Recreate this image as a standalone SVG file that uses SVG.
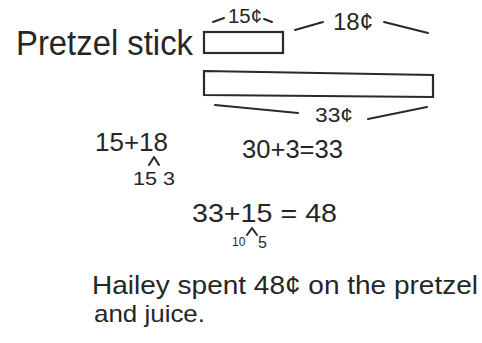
<svg xmlns="http://www.w3.org/2000/svg" width="482" height="343" viewBox="0 0 482 343">
<style>
text{font-family:"Liberation Sans",Arial,sans-serif;fill:#262626}
.ln{stroke:#2a2a2a;stroke-width:2;fill:none;stroke-linecap:round;stroke-linejoin:round}
.bar{stroke:#2a2a2a;stroke-width:2.2;fill:#fff}
</style>
<rect width="482" height="343" fill="#fff"/>
<g id="label-pretzel"><text x="16" y="55" font-size="35" textLength="177" lengthAdjust="spacingAndGlyphs">Pretzel stick</text></g>
<g id="bar-pretzel"><rect class="bar" x="204" y="32" width="79" height="21"/></g>
<g id="bar-total"><polygon class="bar" points="204,71 433,75 433,97 204,95"/></g>
<g id="connectors">
<path class="ln" d="M213,22 L224,18"/>
<path class="ln" d="M264,19 L272,22"/>
<path class="ln" d="M295,30 L323,22"/>
<path class="ln" d="M384,22 L428,33"/>
<path class="ln" d="M215,105 L298,113"/>
<path class="ln" d="M368,119 L427,107"/>
<path class="ln" d="M149,165 L154,157 L159,165"/>
<path class="ln" d="M247,235 L252,228 L257,235" stroke-width="1.6"/>
</g>
<g id="label-15"><text x="228" y="23" font-size="20" textLength="34" lengthAdjust="spacingAndGlyphs">15¢</text></g>
<g id="label-18"><text x="333" y="30" font-size="23" textLength="40" lengthAdjust="spacingAndGlyphs">18¢</text></g>
<g id="label-33"><text x="315" y="122" font-size="21" textLength="38" lengthAdjust="spacingAndGlyphs">33¢</text></g>
<g id="eq1"><text x="95" y="151" font-size="25" textLength="73" lengthAdjust="spacingAndGlyphs">15+18</text></g>
<g id="split1"><text x="133" y="185" font-size="18" textLength="42" lengthAdjust="spacingAndGlyphs">15 3</text></g>
<g id="eq2"><text x="242" y="158" font-size="25" textLength="101" lengthAdjust="spacingAndGlyphs">30+3=33</text></g>
<g id="eq3"><text x="192" y="222" font-size="26" textLength="145" lengthAdjust="spacingAndGlyphs">33+15 = 48</text></g>
<g id="split2"><text x="232" y="246" font-size="12">10</text><text x="258" y="248" font-size="16">5</text></g>
<g id="answer">
<text x="92" y="294" font-size="25" textLength="386" lengthAdjust="spacingAndGlyphs">Hailey spent 48¢ on the pretzel</text>
<text x="94" y="322" font-size="24" textLength="111" lengthAdjust="spacingAndGlyphs">and juice.</text>
</g>
</svg>
